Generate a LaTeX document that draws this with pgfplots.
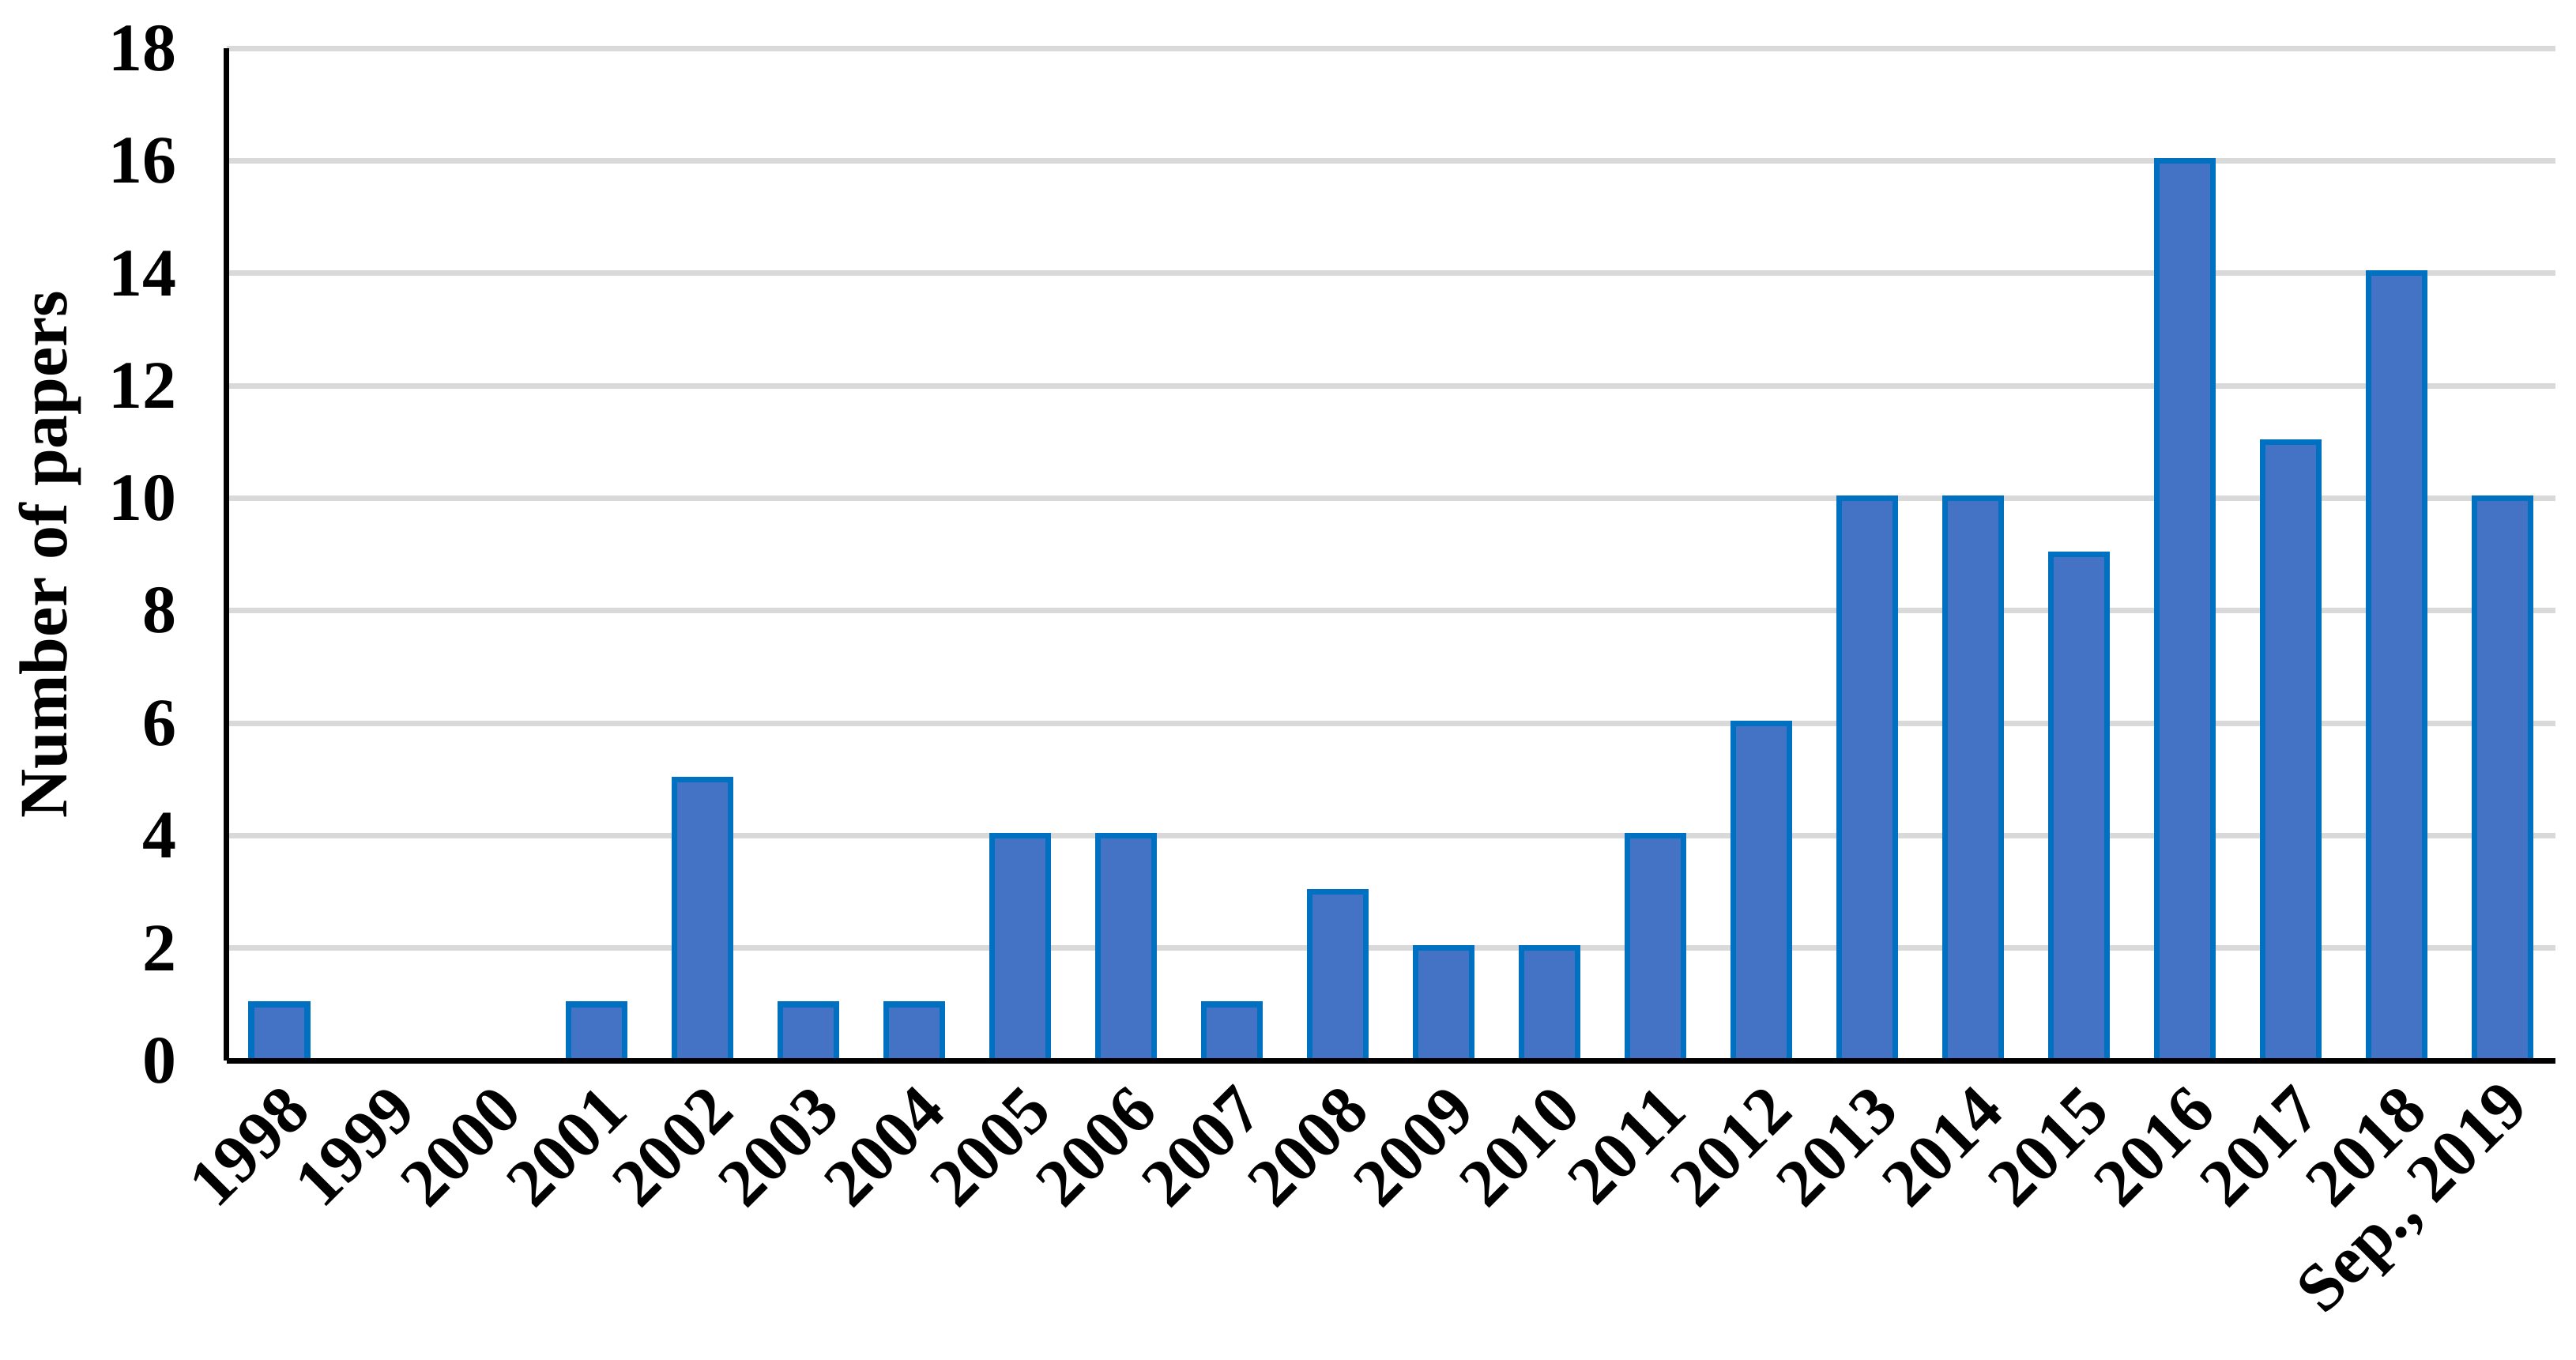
\documentclass[border=0pt]{standalone}
\usepackage{fontspec}
\setmainfont{Liberation Serif}
\usepackage{pgfplots}
\pgfplotsset{compat=1.18}
\definecolor{barfill}{HTML}{4472C4}
\definecolor{baredge}{HTML}{0070C0}
\definecolor{gridgray}{HTML}{D9D9D9}
\begin{document}
\begin{tikzpicture}
\begin{axis}[
    scale only axis,
    width=14.47cm,
    height=6.29cm,
    ybar,
    bar width=0.53,
    xmin=-0.5, xmax=21.5,
    ymin=0, ymax=18,
    ytick={0,2,...,18},
    xtick=data,
    xticklabels={1998,1999,2000,2001,2002,2003,2004,2005,2006,2007,2008,2009,2010,2011,2012,2013,2014,2015,2016,2017,2018,{Sep., 2019}},
    major tick length=0pt,
    axis x line*=bottom,
    axis y line*=left,
    axis line style={black, line width=1pt},
    ymajorgrids,
    grid style={gridgray, line width=1pt},
    ylabel={\bfseries Number of papers},
    ylabel style={font=\fontsize{12}{13}\selectfont\bfseries, yshift=-2pt},
    ticklabel style={font=\fontsize{12}{13}\selectfont\bfseries},
    /pgf/number format/assume math mode=true,
    yticklabel style={xshift=-5.3pt},
    xticklabel style={rotate=45, anchor=east, xshift=1pt, yshift=-7pt},
]
\addplot[fill=barfill, draw=baredge, line width=1pt] coordinates {
    (0,1) (1,0) (2,0) (3,1) (4,5) (5,1) (6,1) (7,4) (8,4) (9,1) (10,3)
    (11,2) (12,2) (13,4) (14,6) (15,10) (16,10) (17,9) (18,16) (19,11)
    (20,14) (21,10)
};
% redraw the baseline over the zero-height bars
\draw[black, line width=1pt] (axis cs:-0.5,0) -- (axis cs:21.5,0);
\end{axis}
\path (current axis.south west) +(-1.40,-1.86) coordinate (bbA);
\path (current axis.north east) +(0.13,0.30) coordinate (bbB);
\path (bbA) (bbB);
\end{tikzpicture}
\end{document}
